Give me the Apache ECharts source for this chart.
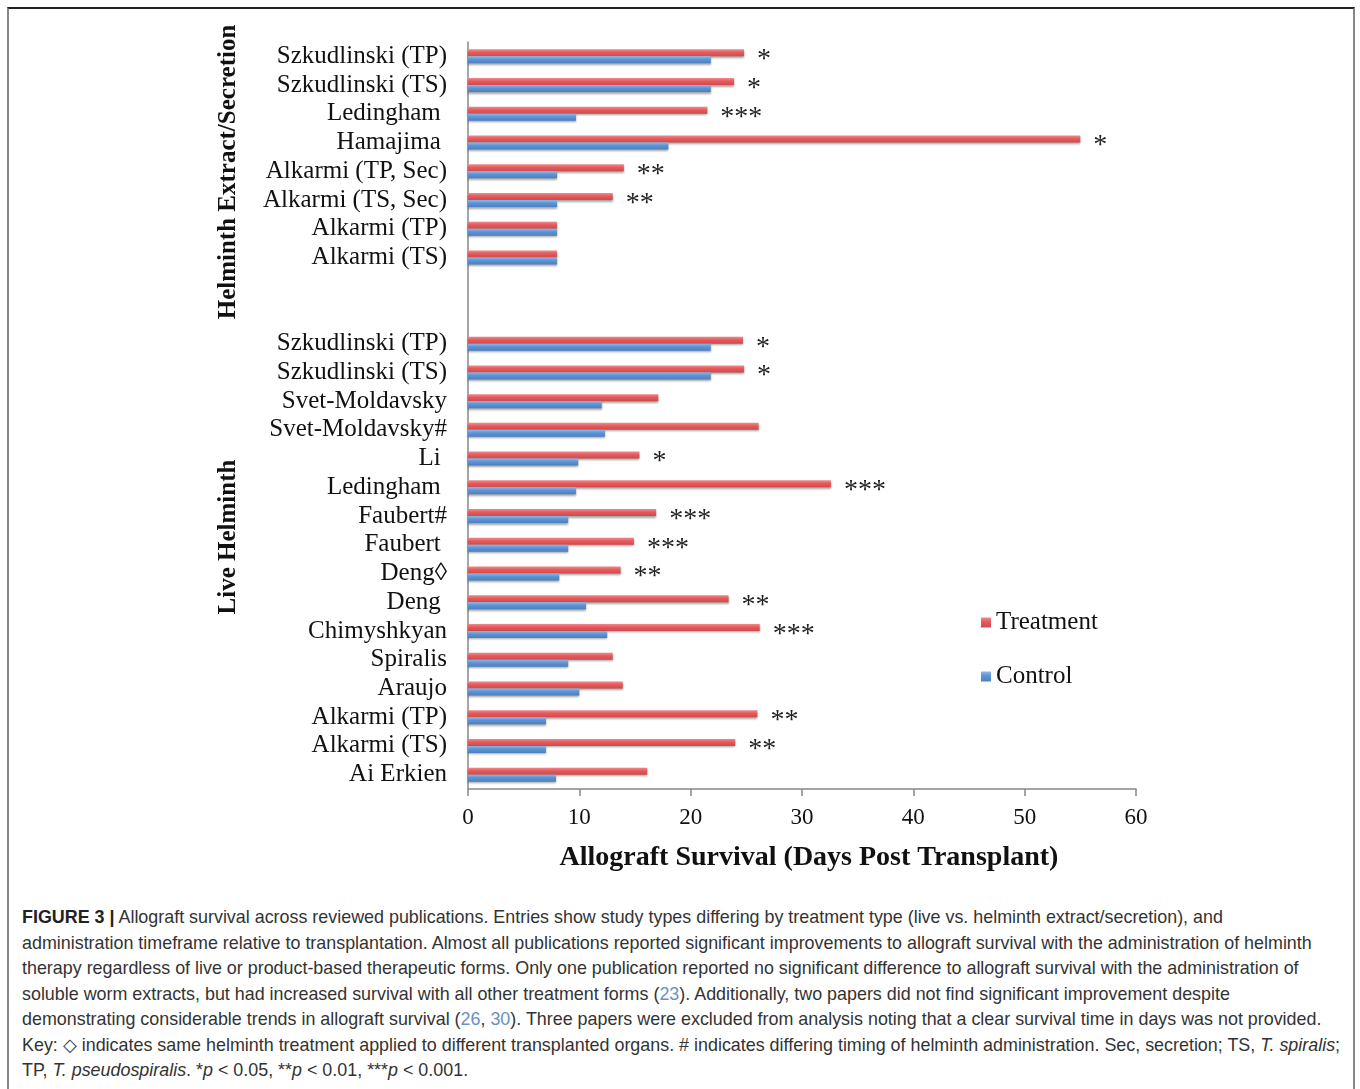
<!DOCTYPE html>
<html>
<head>
<meta charset="utf-8">
<script src="https://cdn.jsdelivr.net/npm/echarts@6/dist/echarts.min.js"></script>
<style>
html,body{margin:0;padding:0;background:#fff;}
#frame{position:absolute;left:7px;top:7px;width:1344px;height:1090px;border-top:2px solid #222;border-left:2px solid #888;border-right:2px solid #888;}
#chart{position:absolute;left:0;top:0;width:1360px;height:890px;}
#caption{position:absolute;left:22px;top:905px;width:1330px;font-family:"Liberation Sans",Arial,sans-serif;font-size:17.9px;line-height:25.5px;color:#333;white-space:nowrap;}
#caption b{color:#222;}
#caption .ref{color:#6b8fc2;}
</style>
</head>
<body>
<div id="frame"></div>
<div id="chart"></div>
<div id="caption"><b>FIGURE 3 |</b> Allograft survival across reviewed publications. Entries show study types differing by treatment type (live vs. helminth extract/secretion), and<br>administration timeframe relative to transplantation. Almost all publications reported significant improvements to allograft survival with the administration of helminth<br>therapy regardless of live or product-based therapeutic forms. Only one publication reported no significant difference to allograft survival with the administration of<br>soluble worm extracts, but had increased survival with all other treatment forms (<span class="ref">23</span>). Additionally, two papers did not find significant improvement despite<br>demonstrating considerable trends in allograft survival (<span class="ref">26</span>, <span class="ref">30</span>). Three papers were excluded from analysis noting that a clear survival time in days was not provided.<br>Key: ◇ indicates same helminth treatment applied to different transplanted organs. # indicates differing timing of helminth administration. Sec, secretion; TS, <i>T. spiralis</i>;<br>TP, <i>T. pseudospiralis</i>. *<i>p</i> &lt; 0.05, **<i>p</i> &lt; 0.01, ***<i>p</i> &lt; 0.001.</div>
<script>
// Categories, top to bottom (two blank rows separate the groups)
var categories = [
  'Szkudlinski (TP)','Szkudlinski (TS)','Ledingham ','Hamajima ','Alkarmi (TP, Sec)','Alkarmi (TS, Sec)','Alkarmi (TP)','Alkarmi (TS)',
  ' ','  ',
  'Szkudlinski (TP)','Szkudlinski (TS)','Svet-Moldavsky','Svet-Moldavsky#','Li ','Ledingham ','Faubert#','Faubert ','Deng\u25CA','Deng ','Chimyshkyan','Spiralis','Araujo','Alkarmi (TP)','Alkarmi (TS)','Ai Erkien'
];
var treatment = [24.8, 23.9, 21.5, 55.0, 14.0, 13.0, 8.0, 8.0,
  null, null,
  24.7, 24.8, 17.1, 26.1, 15.4, 32.6, 16.9, 14.9, 13.7, 23.4, 26.2, 13.0, 13.9, 26.0, 24.0, 16.1];
var control = [21.8, 21.8, 9.7, 18.0, 8.0, 8.0, 8.0, 8.0,
  null, null,
  21.8, 21.8, 12.0, 12.3, 9.9, 9.7, 9.0, 9.0, 8.2, 10.6, 12.5, 9.0, 10.0, 7.0, 7.0, 7.9];
var stars = ['*','*','***','*','**','**','','',
  '','',
  '*','*','','','*','***','***','***','**','**','***','','','**','**',''];
var xTicks = [0, 10, 20, 30, 40, 50, 60];
var groupLabels = ['Helminth Extract/Secretion', 'Live Helminth'];
var seriesNames = ['Treatment', 'Control'];

var serif = '"Liberation Serif","Times New Roman",serif';
var chart = echarts.init(document.getElementById('chart'));
var redGrad = new echarts.graphic.LinearGradient(0,0,0,1,[{offset:0,color:'#f08a8a'},{offset:0.45,color:'#e45a5c'},{offset:1,color:'#d0494c'}]);
var blueGrad = new echarts.graphic.LinearGradient(0,0,0,1,[{offset:0,color:'#8db6e6'},{offset:0.45,color:'#5d93d4'},{offset:1,color:'#4a7fc0'}]);
chart.setOption({
  animation:false,
  grid:{left:468,right:224,top:42,height:747},
  legend:{
    orient:'vertical', left:976, top:605, itemWidth:10, itemHeight:10, itemGap:29,
    icon:'rect', data:seriesNames,
    textStyle:{fontFamily:serif,fontSize:25,color:'#111'}
  },
  xAxis:{
    type:'value', min:xTicks[0], max:xTicks[xTicks.length-1], interval:10,
    axisLine:{show:true,lineStyle:{color:'#888',width:1.5}},
    axisTick:{show:true,length:7,lineStyle:{color:'#888',width:1.5}},
    splitLine:{show:false},
    axisLabel:{fontFamily:serif,fontSize:23,color:'#111',margin:17}
  },
  yAxis:{
    type:'category', inverse:true, data:categories,
    axisLine:{show:true,lineStyle:{color:'#888',width:1.5}},
    axisTick:{show:false},
    axisLabel:{interval:0,fontFamily:serif,fontSize:25,color:'#111',margin:21}
  },
  series:[
    {name:seriesNames[0],type:'bar',data:treatment,barWidth:7,barGap:'0%',
     itemStyle:{color:redGrad,shadowColor:'rgba(0,0,0,0.35)',shadowBlur:2,shadowOffsetY:1.5},
     label:{show:true,position:'right',distance:13,offset:[0,7],fontFamily:serif,fontSize:28,color:'#222',
       formatter:function(p){return stars[p.dataIndex];}}},
    {name:seriesNames[1],type:'bar',data:control,barWidth:7,
     itemStyle:{color:blueGrad,shadowColor:'rgba(0,0,0,0.35)',shadowBlur:2,shadowOffsetY:1.5}}
  ],
  graphic:[
    {type:'text',x:229,y:172,rotation:Math.PI/2,style:{text:groupLabels[0],font:'bold 25px '+serif,fill:'#111',textAlign:'center',textVerticalAlign:'middle'}},
    {type:'text',x:229,y:537,rotation:Math.PI/2,style:{text:groupLabels[1],font:'bold 25px '+serif,fill:'#111',textAlign:'center',textVerticalAlign:'middle'}},
    {type:'text',x:809,y:858,style:{text:'Allograft Survival (Days Post Transplant)',font:'bold 28px '+serif,fill:'#111',textAlign:'center',textVerticalAlign:'middle'}}
  ]
});
</script>
</body>
</html>
